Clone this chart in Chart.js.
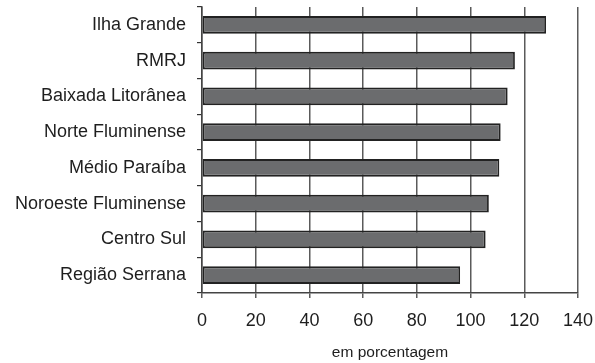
<!DOCTYPE html>
<html>
<head>
<meta charset="utf-8">
<script src="https://cdn.jsdelivr.net/npm/chart.js@4"></script>
<style>
  html, body { margin: 0; padding: 0; background: #fff; }
  #wrap { width: 595px; height: 363px; position: relative; }
</style>
</head>
<body>
<div id="wrap"><canvas id="chart"></canvas></div>
<script>
// Regiões do estado do Rio de Janeiro
const regions = [
  'Ilha Grande',
  'RMRJ',
  'Baixada Litorânea',
  'Norte Fluminense',
  'Médio Paraíba',
  'Noroeste Fluminense',
  'Centro Sul',
  'Região Serrana'
];

// Valores em porcentagem
const values = [128.1, 116.5, 113.8, 111.2, 110.7, 106.8, 105.6, 96.1];

// Marcas do eixo horizontal
const axisMin = 0;
const axisMax = 140;
const axisStep = 20;
const axisTitle = 'em porcentagem';

const fontFamily = '"Liberation Sans", Arial, Helvetica, sans-serif';

// Zera a folga automática que as escalas reservam para os rótulos extremos,
// para que a área do gráfico siga apenas o layout.padding
function clearScalePadding(scale) {
  scale.paddingTop = 0;
  scale.paddingBottom = 0;
  scale.paddingLeft = 0;
  scale.paddingRight = 0;
}

new Chart(document.getElementById('chart'), {
  type: 'bar',
  data: {
    labels: regions,
    datasets: [{
      data: values,
      backgroundColor: '#6b6c6e',
      borderColor: '#222222',
      borderWidth: 1.8,
      borderSkipped: false,
      barPercentage: 0.49,
      categoryPercentage: 1
    }]
  },
  options: {
    indexAxis: 'y',
    responsive: true,
    maintainAspectRatio: false,
    animation: false,
    layout: { padding: { top: 7, right: 17, left: 0, bottom: 0 } },
    plugins: {
      legend: { display: false },
      tooltip: { enabled: false }
    },
    scales: {
      x: {
        min: axisMin,
        max: axisMax,
        ticks: {
          stepSize: axisStep,
          color: '#1e1e1e',
          padding: 12,
          font: { family: fontFamily, size: 18 }
        },
        grid: {
          color: '#5a5a5a',
          lineWidth: 1.5,
          tickLength: 5,
          drawTicks: true
        },
        border: { display: true, color: '#444', width: 1.5 },
        title: {
          display: true,
          text: axisTitle,
          color: '#1e1e1e',
          padding: { top: 0, bottom: 1 },
          font: { family: fontFamily, size: 15.5 }
        },
        afterFit(scale) {
          scale.height = 70;
          clearScalePadding(scale);
        }
      },
      y: {
        ticks: {
          color: '#1e1e1e',
          padding: 11,
          font: { family: fontFamily, size: 18 }
        },
        grid: {
          drawOnChartArea: false,
          drawTicks: true,
          tickLength: 5,
          color: '#333',
          lineWidth: 1.2
        },
        border: { display: true, color: '#444', width: 1.5 },
        afterFit(scale) {
          scale.width = 202;
          clearScalePadding(scale);
        }
      }
    }
  }
});
</script>
</body>
</html>
